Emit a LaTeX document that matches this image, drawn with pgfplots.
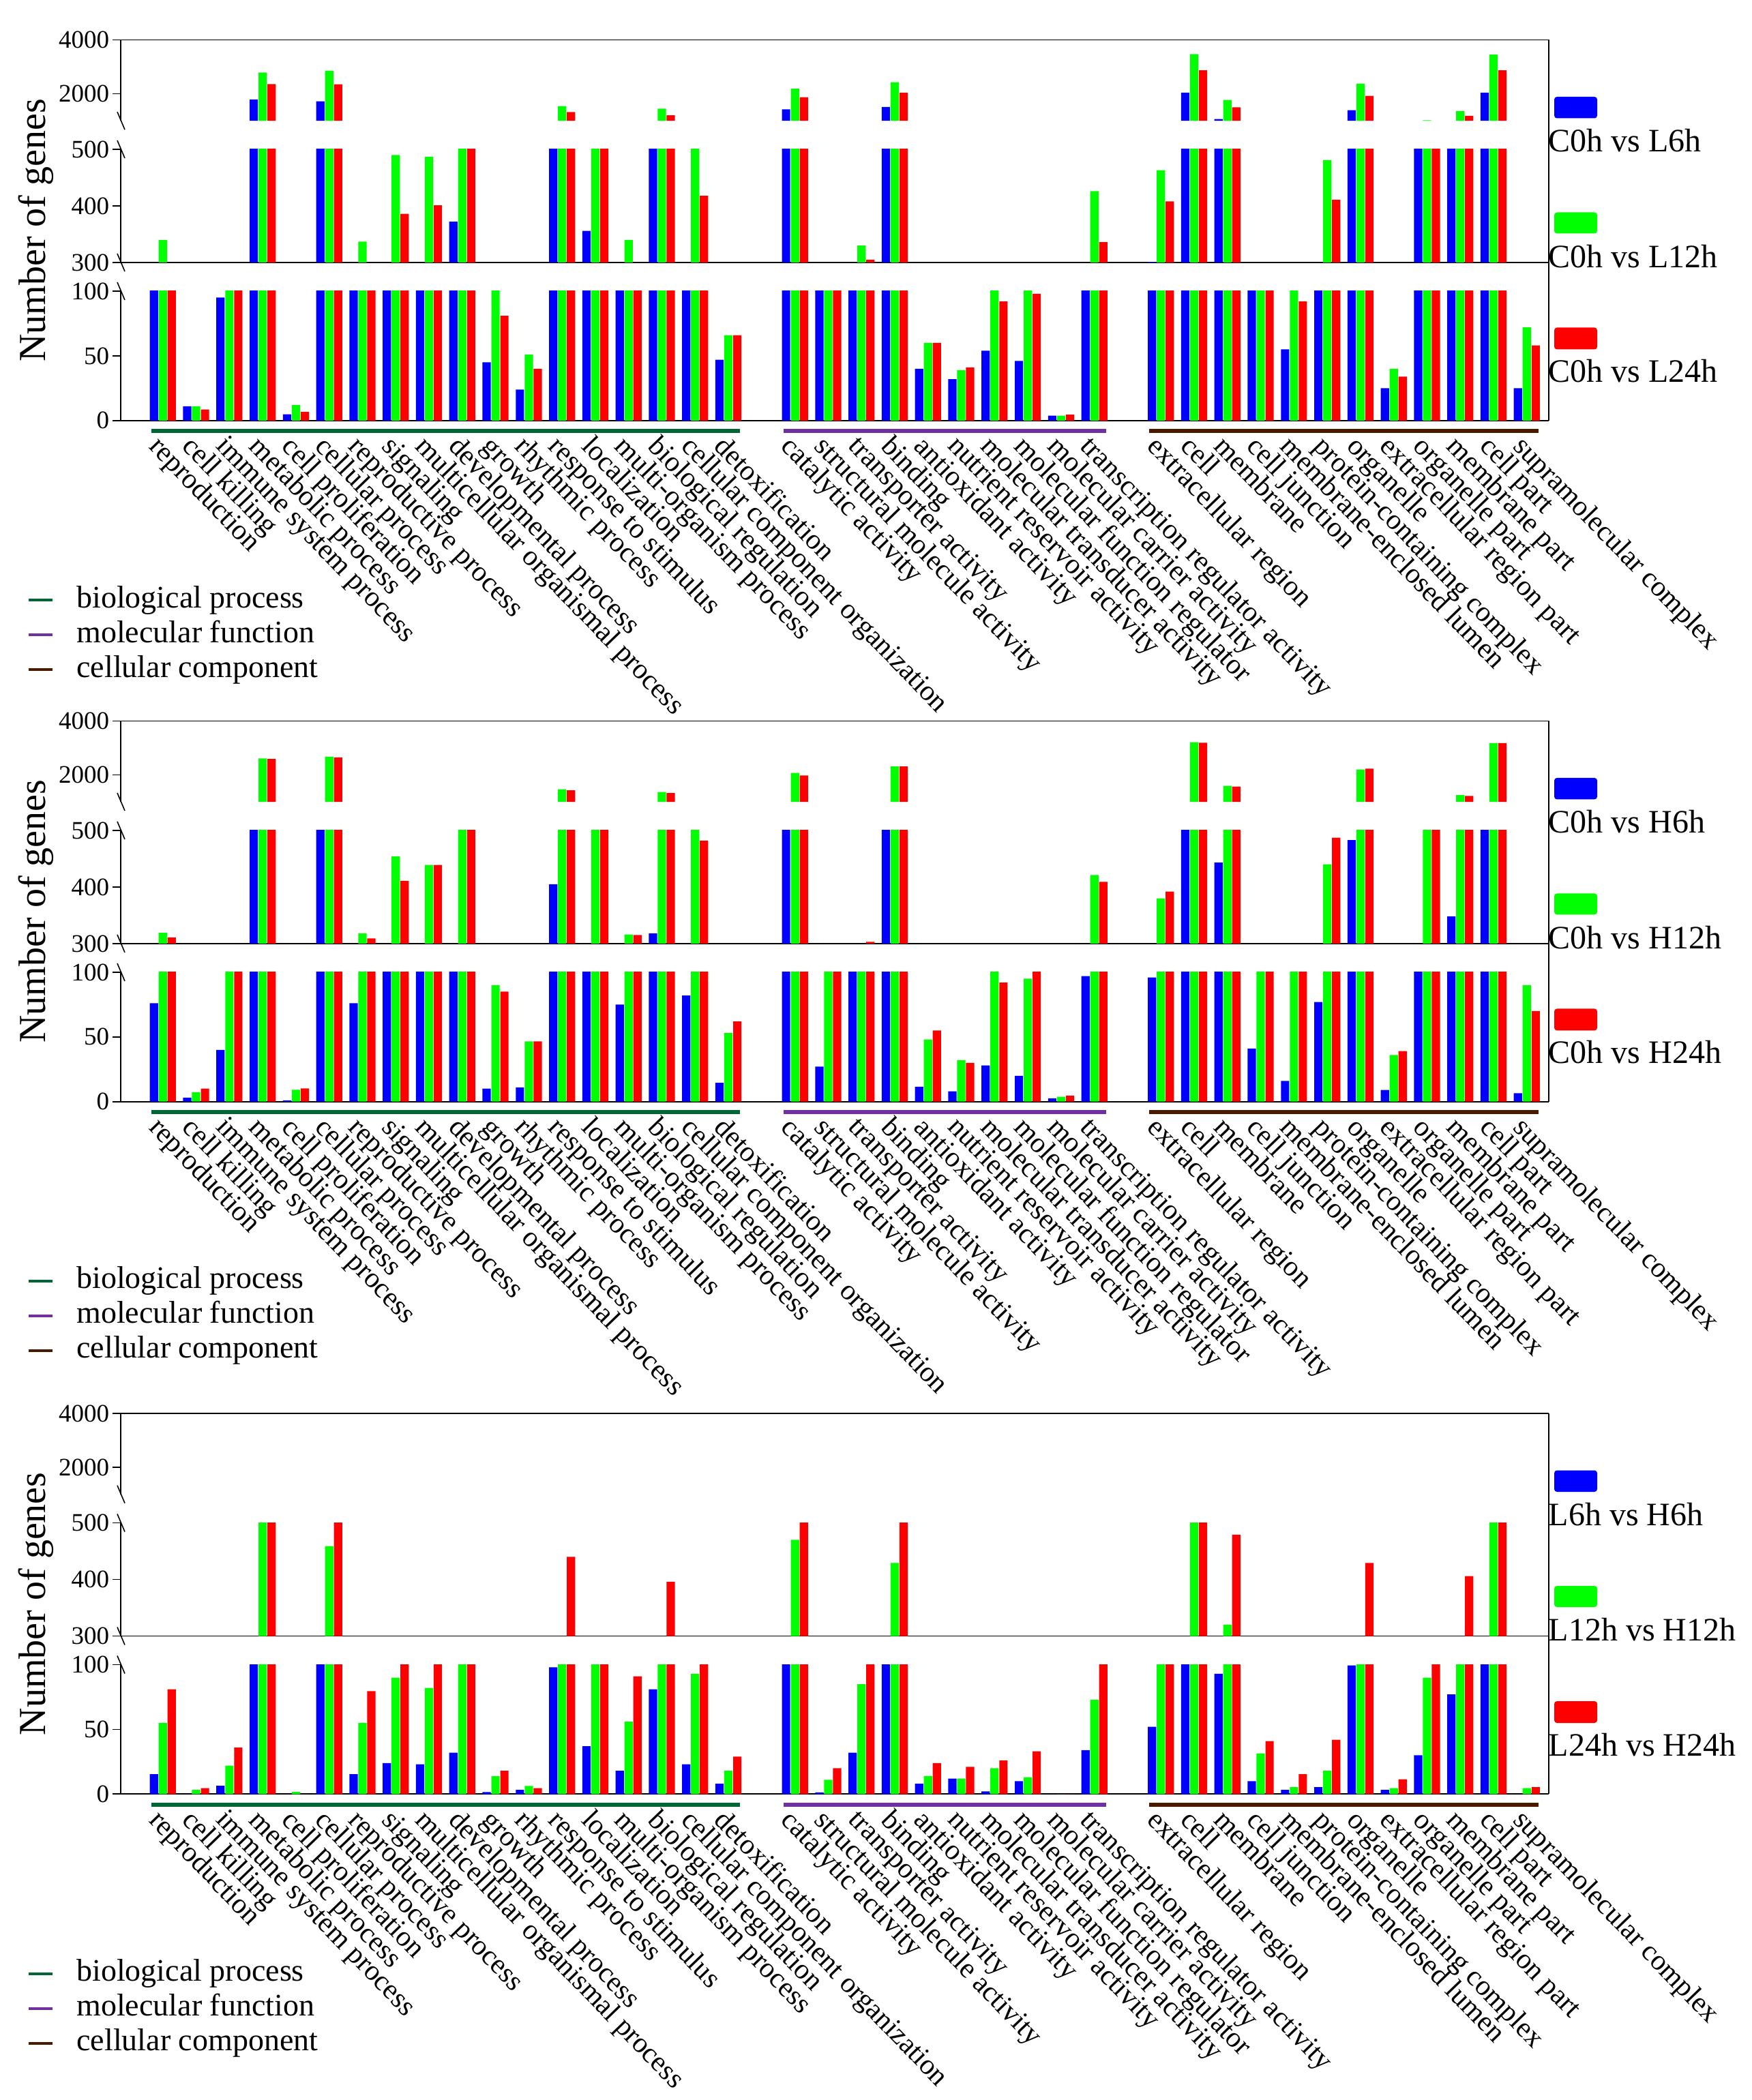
\documentclass[border=0pt]{standalone}
\usepackage{pgfplots}
\usepackage{pgfplotstable}
\usepackage{fontspec}
\setmainfont{Liberation Serif}
\pgfplotsset{compat=1.18}

\definecolor{bpgreen}{RGB}{0,102,51}
\definecolor{mfpurple}{RGB}{112,48,160}
\definecolor{ccbrown}{RGB}{72,26,0}

% GO categories at x = 0..17, 19..28, 30..41
% b, g, r = first, second, third comparison of each panel
\pgfplotstableread{
i b g r
0 200 340 200
1 11 11 8.5
2 95 200 200
3 1790 2790 2360
4 4.8 12 6.7
5 1720 2860 2350
6 200 337 200
7 200 490 386
8 200 487 401
9 372 700 700
10 45 150 81
11 24 51 40
12 700 1540 1320
13 356 700 700
14 200 340 200
15 700 1450 1200
16 200 700 418
17 47 66 66
19 1420 2190 1870
20 200 200 200
21 200 330 305
22 1510 2430 2040
23 40 60 60
24 32 39 41
25 54 200 92
26 46 200 98
27 3.8 3.8 4.6
28 200 426 336
30 301 463 408
31 2040 3470 2870
32 1060 1770 1500
33 200 200 200
34 55 200 92
35 200 481 411
36 1390 2380 1920
37 25 40 34
38 700 1020 700
39 700 1360 1180
40 2040 3460 2870
41 25 72 58
}\dataA

\pgfplotstableread{
i b g r
0 76 319 311
1 3.1 7.3 10
2 40 200 200
3 700 2610 2590
4 1 9.2 10.2
5 700 2670 2650
6 76 318 309
7 200 454 411
8 200 439 439
9 200 700 700
10 10 90 85
11 11 46.5 46.5
12 405 1465 1426
13 200 700 700
14 75 316 315
15 318 1366 1327
16 82 700 482
17 14.6 53 62
19 700 2070 1980
20 27 200 200
21 200 200 303
22 700 2310 2310
23 11.5 48 55
24 8 32 30
25 28 200 92
26 20 95 200
27 2.5 3.8 4.6
28 97 421 409
30 96 380 392
31 700 3210 3190
32 443 1594 1564
33 41 200 200
34 16 200 200
35 77 440 487
36 483 2200 2230
37 9 36 39
38 200 700 700
39 348 1248 1218
40 700 3180 3180
41 6.5 90 70
}\dataB

\pgfplotstableread{
i b g r
0 15.4 55 81
1 0 3.3 4.6
2 6.5 22 36
3 200 700 700
4 0 1.7 0
5 200 459 700
6 15.4 55 79.5
7 24 90 200
8 23 82 200
9 32 200 200
10 1.5 14 18
11 3.3 6.3 4.6
12 98 200 440
13 37 200 200
14 18 56 91
15 81 200 396
16 23 93 200
17 8 18 29
19 200 470 700
20 1.3 11 20
21 32 85 200
22 200 429 700
23 8 14 24
24 12 12 21
25 2.1 20 26
26 10 13 33
27 0 0 0
28 34 73 200
30 52 200 200
31 200 700 700
32 93 320 479
33 10 31.5 41
34 3.3 5.4 15.4
35 5.4 18 42
36 99.4 200 429
37 3.3 4.6 11.5
38 30 90 200
39 77 200 406
40 200 700 700
41 0 4.6 5.4
}\dataC

\pgfplotsset{
  noarrows/.style={
    axis line style={-, line width=0.45pt},
    every outer x axis line/.append style={-},
    every outer y axis line/.append style={-},
  },
  gobase/.style={
    scale only axis, width=523.5pt,
    xmin=-1.267, xmax=41.66,
    anchor=south west,
    axis y line*=left,
    tick align=outside,
    major tick length=3pt,
    tick style={line width=0.45pt, black},
    yticklabel style={font=\fontsize{9.25}{10}\selectfont, inner sep=1pt},
    /pgf/number format/assume math mode=true,
    /pgf/number format/1000 sep={},
    xtick=\empty,
  },
  gotop/.style={gobase, axis x line*=top, noarrows,
    height=29.65pt, ymin=1000, ymax=4000, ytick={2000,4000},
    restrict y to domain=1000:10000},
  gomid/.style={gobase, axis x line*=none, noarrows,
    height=41.5pt, ymin=300, ymax=500, ytick={300,400,500},
    restrict y to domain=300:10000},
  gobot/.style={gobase, axis x line*=bottom, noarrows,
    height=47.45pt, ymin=0, ymax=100, ytick={0,50,100},
    xtick={0,1,...,17,19,20,...,28,30,31,...,41},
    xticklabels={reproduction,cell killing,immune system process,metabolic process,
      cell proliferation,cellular process,reproductive process,signaling,
      multicellular organismal process,developmental process,growth,rhythmic process,
      response to stimulus,localization,multi-organism process,biological regulation,
      cellular component organization,detoxification,
      catalytic activity,structural molecule activity,transporter activity,binding,
      antioxidant activity,nutrient reservoir activity,molecular transducer activity,
      molecular function regulator,molecular carrier activity,transcription regulator activity,
      extracellular region,cell,membrane,cell junction,membrane-enclosed lumen,
      protein-containing complex,organelle,extracellular region part,organelle part,
      membrane part,cell part,supramolecular complex},
    every x tick/.append style={draw=none},
    xticklabel style={rotate=-46, anchor=north west, inner sep=0pt,
      xshift=1pt, yshift=-1.25pt, font=\fontsize{10.5}{12}\selectfont},
  },
}

\newcommand\gobars[1]{%
  \addplot[ybar, bar width=0.25, bar shift=-0.267, fill=blue, draw=none] table[x=i,y=b]{#1};
  \addplot[ybar, bar width=0.25, bar shift=0, fill=green, draw=none] table[x=i,y=g]{#1};
  \addplot[ybar, bar width=0.25, bar shift=0.267, fill=red, draw=none] table[x=i,y=r]{#1};
}

% #1 top of panel (pt below page top), #2 table, #3-#5 legend texts
\newcommand\panel[5]{%
  \begin{axis}[gotop, at={(44.25pt,-#1pt-29.65pt)}]
    \gobars{#2}
  \end{axis}
  \begin{axis}[gomid, at={(44.25pt,-#1pt-81.625pt)}]
    \gobars{#2}
  \end{axis}
  \begin{axis}[gobot, at={(44.25pt,-#1pt-139.575pt)}]
    \gobars{#2}
  \end{axis}
  \begin{scope}[shift={(0pt,-#1pt)}]
    \draw[line width=0.45pt] (567.75pt,0pt) -- (567.75pt,-139.575pt);
    % axis breaks
    \draw[line width=0.4pt] (43pt,-26.4pt) -- (45.75pt,-32.9pt);
    \draw[line width=0.4pt] (43pt,-36.875pt) -- (45.75pt,-43.375pt);
    \draw[line width=0.4pt] (43pt,-78.375pt) -- (45.75pt,-84.875pt);
    \draw[line width=0.4pt] (43pt,-88.875pt) -- (45.75pt,-95.375pt);
    % GO class bars under the axis
    \draw[bpgreen, line width=1.5pt] (55.43pt,-143.4pt) -- (271.3pt,-143.4pt);
    \draw[mfpurple, line width=1.5pt] (287.14pt,-143.4pt) -- (405.43pt,-143.4pt);
    \draw[ccbrown, line width=1.5pt] (421.28pt,-143.4pt) -- (563.97pt,-143.4pt);
    \node[rotate=90, font=\fontsize{14}{16}\selectfont] at (13.25pt,-69.8pt) {Number of genes};
    % comparison legend
    \fill[blue, rounded corners=1pt] (569.75pt,-20.875pt) rectangle (585.5pt,-28.75pt);
    \fill[green, rounded corners=1pt] (569.75pt,-63.25pt) rectangle (585.5pt,-71pt);
    \fill[red, rounded corners=1pt] (569.75pt,-105.5pt) rectangle (585.5pt,-113.5pt);
    \begin{scope}[every node/.style={anchor=base west, inner sep=0pt, font=\fontsize{12}{14}\selectfont}]
      \node at (567.5pt,-41pt) {#3};
      \node at (567.5pt,-83.4pt) {#4};
      \node at (567.5pt,-125.5pt) {#5};
    \end{scope}
    % GO class legend
    \draw[bpgreen, line width=1pt] (10.4pt,-205.375pt) -- (19.15pt,-205.375pt);
    \draw[mfpurple, line width=1pt] (10.4pt,-218.125pt) -- (19.15pt,-218.125pt);
    \draw[ccbrown, line width=1pt] (10.4pt,-230.875pt) -- (19.15pt,-230.875pt);
    \begin{scope}[every node/.style={anchor=base west, inner sep=0pt, font=\fontsize{11.5}{13}\selectfont}]
      \node at (27.9pt,-208.125pt) {biological process};
      \node at (27.9pt,-220.875pt) {molecular function};
      \node at (27.9pt,-233.625pt) {cellular component};
    \end{scope}
  \end{scope}
}

\begin{document}
\begin{tikzpicture}
\useasboundingbox (0pt,0pt) rectangle (642pt,-770pt);
\panel{14.625}{\dataA}{C0h vs L6h}{C0h vs L12h}{C0h vs L24h}
\panel{264.35}{\dataB}{C0h vs H6h}{C0h vs H12h}{C0h vs H24h}
\panel{518.25}{\dataC}{L6h vs H6h}{L12h vs H12h}{L24h vs H24h}
\end{tikzpicture}
\end{document}
